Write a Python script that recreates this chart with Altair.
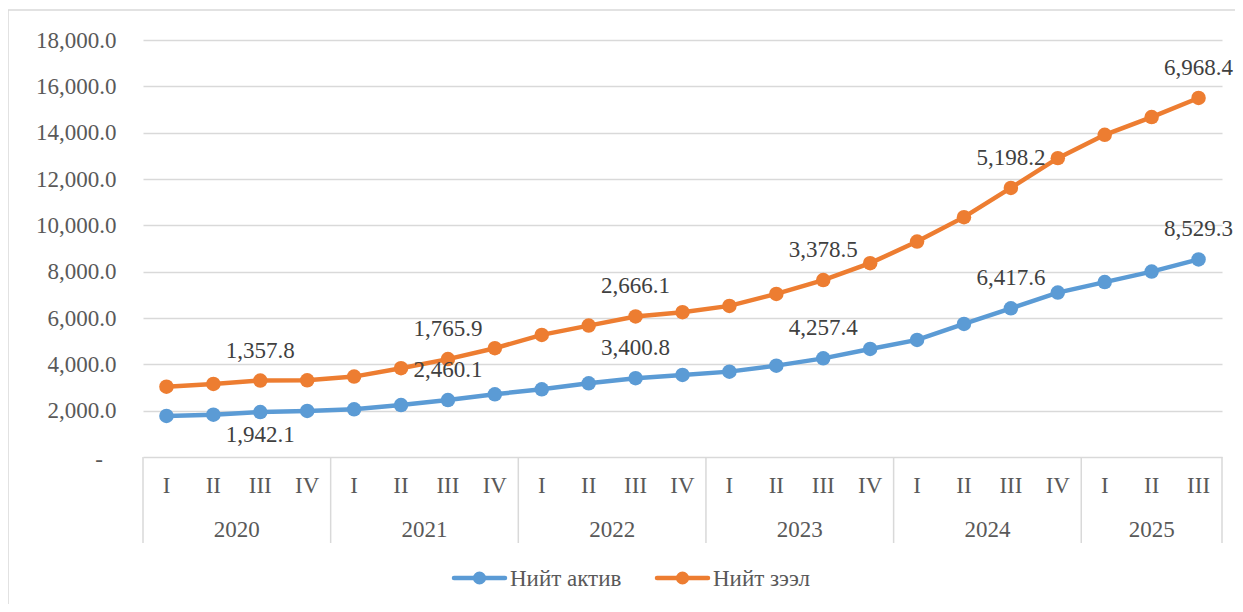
import altair as alt
import pandas as pd

# ---- data ----
quarters = ["I", "II", "III", "IV"] * 5 + ["I", "II", "III"]
years = [2020] * 4 + [2021] * 4 + [2022] * 4 + [2023] * 4 + [2024] * 4 + [2025] * 3
total_assets = [1771, 1827, 1942.1, 1990, 2060, 2240, 2460.1, 2708, 2924, 3183, 3400.8, 3542,
                3685, 3944, 4257.4, 4665, 5054, 5745, 6417.6, 7097, 7550, 8004, 8529.3]
total_loans = [1266, 1326, 1357.8, 1322, 1410, 1592, 1765.9, 1987, 2346, 2489, 2666.1, 2708,
               2838, 3097, 3378.5, 3702, 4246, 4609, 5198.2, 5804, 6359, 6670, 6968.4]
label_idx = [2, 6, 10, 14, 18, 22]
series_names = ["Нийт актив", "Нийт зээл"]
colors = ["#5B9BD5", "#ED7D31"]
y_ticks = [0, 2000, 4000, 6000, 8000, 10000, 12000, 14000, 16000, 18000]

FONT = "'Liberation Serif', 'Times New Roman', Tinos, 'DejaVu Serif', serif"

rows = []
for i, (a, l) in enumerate(zip(total_assets, total_loans)):
    rows.append(dict(idx=i, series=series_names[0], value=a, pos=a,
                     show=i in label_idx, below=(i == 2)))
    rows.append(dict(idx=i, series=series_names[1], value=l, pos=a + l,  # stacked line
                     show=i in label_idx, below=False))
df = pd.DataFrame(rows)

qdf = pd.DataFrame(dict(idx=list(range(len(quarters))), q=quarters, year=years))
ydf = qdf.groupby("year", as_index=False)["idx"].mean()
ydf["year"] = ydf["year"].astype(str)
bounds = [-0.5] + [float(qdf[qdf.year == y].idx.max()) + 0.5 for y in sorted(set(years))]
bdf = pd.DataFrame(dict(b=bounds))

xscale = alt.Scale(domain=[-0.5, 22.5], nice=False, zero=False)
yscale = alt.Scale(domain=[0, 18000], nice=False)
cscale = alt.Scale(domain=series_names, range=colors)

W, H = 1079, 417

base = alt.Chart(df)

lines = base.mark_line(strokeWidth=4.5).encode(
    x=alt.X("idx:Q", scale=xscale, axis=None),
    y=alt.Y("pos:Q", scale=yscale, title=None,
            axis=alt.Axis(values=y_ticks,
                          labelExpr="datum.value == 0 ? '' : format(datum.value, ',.1f')",
                          labelFontSize=23, labelColor="#595959", labelFont=FONT,
                          labelPadding=27, ticks=False, domain=False,
                          grid=True, gridColor="#d9d9d9", gridWidth=1.3)),
    color=alt.Color("series:N", scale=cscale, legend=None),
    detail="series:N",
)

# Excel accounting format shows zero as a dash, set further left than the digits
zero_df = pd.DataFrame(dict(v=[y_ticks[0]], t=["-"]))
zero_label = alt.Chart(zero_df).mark_text(
    fontSize=23, font=FONT, color="#595959", align="right", dy=3).encode(
    x=alt.value(-40),
    y=alt.Y("v:Q", scale=yscale),
    text="t:N",
)

points = base.mark_point(filled=True, size=210, opacity=1).encode(
    x=alt.X("idx:Q", scale=xscale, axis=None),
    y=alt.Y("pos:Q", scale=yscale),
    color=alt.Color("series:N", scale=cscale, legend=None),
)

labels_above = base.transform_filter("datum.show && !datum.below").mark_text(
    dy=-30, fontSize=23, font=FONT, color="#404040").encode(
    x=alt.X("idx:Q", scale=xscale, axis=None),
    y=alt.Y("pos:Q", scale=yscale),
    text=alt.Text("value:Q", format=",.1f"),
)
labels_below = base.transform_filter("datum.below").mark_text(
    dy=23, fontSize=23, font=FONT, color="#404040").encode(
    x=alt.X("idx:Q", scale=xscale, axis=None),
    y=alt.Y("pos:Q", scale=yscale),
    text=alt.Text("value:Q", format=",.1f"),
)

qlabels = alt.Chart(qdf).mark_text(fontSize=23, font=FONT, color="#595959").encode(
    x=alt.X("idx:Q", scale=xscale, axis=None),
    y=alt.value(446),
    text="q:N",
)
ylabels = alt.Chart(ydf).mark_text(fontSize=23, font=FONT, color="#595959").encode(
    x=alt.X("idx:Q", scale=xscale, axis=None),
    y=alt.value(490),
    text="year:N",
)
seps = alt.Chart(bdf).mark_rule(color="#d9d9d9", strokeWidth=1.5).encode(
    x=alt.X("b:Q", scale=xscale, axis=None),
    y=alt.value(417),
    y2=alt.value(503),
)

one = pd.DataFrame(dict(k=[0]))
border_left = alt.Chart(one).mark_rule(color="#d9d9d9", strokeWidth=1.5).encode(
    x=alt.value(-135), y=alt.value(-30), y2=alt.value(700))
border_top = alt.Chart(one).mark_rule(color="#d9d9d9", strokeWidth=1.5).encode(
    x=alt.value(-135), x2=alt.value(1300), y=alt.value(-30))

# manual legend (line + marker + label), like Excel's
legend_layers = []
legend_left = [309, 512]
for name, col, lx in zip(series_names, colors, legend_left):
    legend_layers.append(alt.Chart(one).mark_rule(color=col, strokeWidth=4.5, strokeCap="round").encode(
        x=alt.value(lx + 2), x2=alt.value(lx + 53), y=alt.value(538)))
    legend_layers.append(alt.Chart(one).mark_point(filled=True, size=170, opacity=1, color=col).encode(
        x=alt.value(lx + 27.5), y=alt.value(538)))
    legend_layers.append(alt.Chart(one).mark_text(
        text=name, align="left", baseline="middle", fontSize=23, font=FONT, color="#595959").encode(
        x=alt.value(lx + 58), y=alt.value(539)))

chart = alt.layer(border_left, border_top, seps, lines, zero_label, points, labels_above,
                  labels_below, qlabels, ylabels, *legend_layers).properties(
    width=W, height=H,
    autosize=alt.AutoSizeParams(type="none"),
    padding={"left": 135, "top": 32, "right": 13, "bottom": 147},
).configure(font=FONT).configure_view(stroke=None)

chart.save("out.html", embed_options={"renderer": "svg", "actions": False})
